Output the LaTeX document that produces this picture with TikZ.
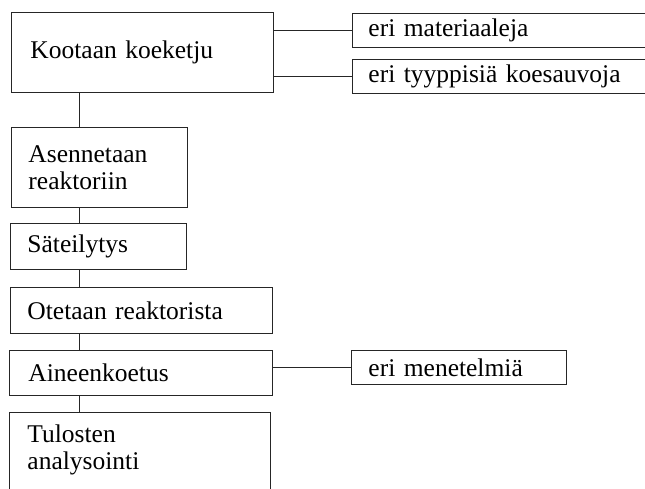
\documentclass[tikz,border=0pt]{standalone}
\usepackage{fontspec}
\setmainfont{Liberation Serif}
\begin{document}
\begin{tikzpicture}[x=1pt,y=-1pt,
  box/.style={draw=black!85, line width=0.9pt, anchor=north west, align=left,
    inner ysep=0pt, font=\fontsize{25.5pt}{27pt}\selectfont},
  link/.style={draw=black!85, line width=0.9pt}]
  \useasboundingbox (0,0) rectangle (645,488);

  % main chain of work steps
  \node[box, inner xsep=19pt, text width=224pt, minimum height=80pt] (kootaan) at (11,12) {Kootaan koeketju};
  \node[box, inner xsep=17pt, text width=142pt, minimum height=80pt] (asenn) at (11,127) {Asennetaan\\reaktoriin};
  \node[box, inner xsep=17pt, text width=142pt, minimum height=46pt] (sateil) at (10,223) {Säteilytys};
  \node[box, inner xsep=17pt, text width=228pt, minimum height=46pt] (otetaan) at (10,287) {Otetaan reaktorista};
  \node[box, inner xsep=19pt, text width=225pt, minimum height=45pt] (aineen) at (9,350) {Aineenkoetus};
  \node[box, inner xsep=18pt, text width=225pt, minimum height=90pt] (tulos) at (9,412)
    {\raisebox{7.5pt}[\height][\depth]{\parbox{225pt}{Tulosten\\analysointi}}};

  % side notes
  \node[box, inner xsep=16pt, text width=276pt, minimum height=34pt] (mat) at (352,13) {eri materiaaleja};
  \node[box, inner xsep=16pt, text width=276pt, minimum height=34pt] (tyyp) at (352,59) {eri tyyppisiä koesauvoja};
  \node[box, inner xsep=17pt, text width=181pt, minimum height=34pt] (menet) at (351,350) {eri menetelmiä};

  % vertical spine joining the steps
  \coordinate (spine) at (79,0);
  \draw[link] (kootaan.south -| spine) -- (asenn.north -| spine);
  \draw[link] (asenn.south -| spine) -- (sateil.north -| spine);
  \draw[link] (sateil.south -| spine) -- (otetaan.north -| spine);
  \draw[link] (otetaan.south -| spine) -- (aineen.north -| spine);
  \draw[link] (aineen.south -| spine) -- (tulos.north -| spine);

  % branches to the side notes
  \draw[link] (kootaan.east |- mat.west) -- (mat.west);
  \draw[link] (kootaan.east |- tyyp.west) -- (tyyp.west);
  \draw[link] (aineen.east |- menet.west) -- (menet.west);
\end{tikzpicture}
\end{document}
